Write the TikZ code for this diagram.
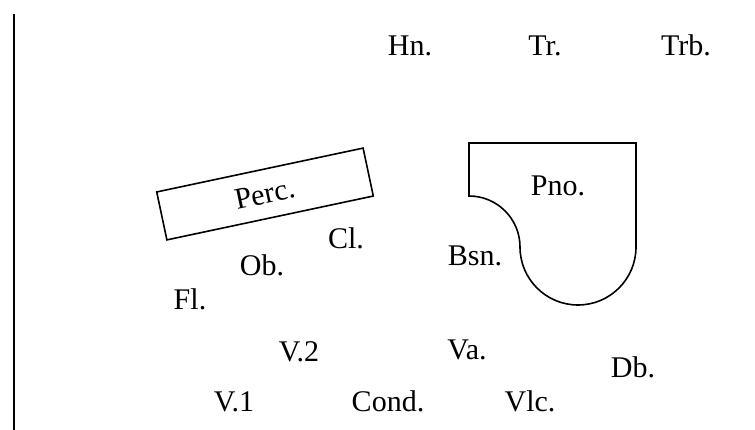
\documentclass[tikz,border=0pt]{standalone}
\usepackage{fontspec}
\setmainfont{Liberation Serif}
\begin{document}
\begin{tikzpicture}[x=1pt,y=1pt,
  lbl/.style={anchor=base,inner sep=0pt,font=\fontsize{30}{36}\selectfont},
  shp/.style={line width=1.6pt,line join=miter}]
\useasboundingbox (0,0) rectangle (755,430);
% left rule
\coordinate (rulebot) at (14,0);
\coordinate (ruletop) at (14,416);
\draw[line width=1.3pt] (rulebot) -- (ruletop);
% percussion platform
\node[draw,shp,rotate=12,minimum width=211pt,minimum height=49pt,inner sep=0pt,
      font=\fontsize{30}{36}\selectfont] (perc) at (265,236) {Perc.};
% piano outline
\draw[shp] (469,287) -- (636,287) -- (636,183)
  arc[start angle=0,end angle=-180,radius=58]
  arc[start angle=0,end angle=90,radius=51] -- cycle;
\node[lbl] (pno) at (558,234) {Pno.};
% labels
\node[lbl] (hn)   at (410,374) {Hn.};
\node[lbl] (tr)   at (545,374) {Tr.};
\node[lbl] (trb)  at (686,374) {Trb.};
\node[lbl] (cl)   at (346,181) {Cl.};
\node[lbl] (bsn)  at (475,164) {Bsn.};
\node[lbl] (ob)   at (262,154) {Ob.};
\node[lbl] (fl)   at (190,120) {Fl.};
\node[lbl] (v2)   at (299,68)  {V.2};
\node[lbl] (va)   at (467,70)  {Va.};
\node[lbl] (db)   at (633,52)  {Db.};
\node[lbl] (v1)   at (234,18)  {V.1};
\node[lbl] (cond) at (388,18)  {Cond.};
\node[lbl] (vlc)  at (530,18)  {Vlc.};
\end{tikzpicture}
\end{document}
